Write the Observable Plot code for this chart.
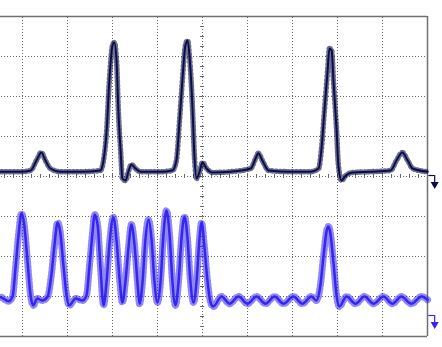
<!DOCTYPE html>
<html>
<head>
<meta charset="utf-8">
<script src="https://cdn.jsdelivr.net/npm/d3@7"></script>
<script src="https://cdn.jsdelivr.net/npm/@observablehq/plot@0.6"></script>
<style>
  html, body { margin: 0; padding: 0; background: #ffffff; }
  #chart svg { display: block; }
</style>
</head>
<body>
<div id="chart"></div>
<script>
// Oscilloscope traces, values in screen divisions (time: -5..5, volts: -4..4)
const ch1Time = [-5.00,-4.49,-4.04,-3.82,-3.69,-3.58,-3.49,-3.38,-3.16,-2.71,-2.27,-2.20,-2.13,-2.07,-2.00,-1.96,-1.91,-1.87,-1.82,-1.78,-1.71,-1.64,-1.58,-1.49,-1.38,-0.93,-0.67,-0.58,-0.51,-0.44,-0.38,-0.33,-0.29,-0.22,-0.18,-0.13,-0.07,0.00,0.09,0.22,0.62,1.07,1.18,1.24,1.33,1.47,1.96,2.40,2.58,2.64,2.71,2.78,2.82,2.87,2.91,2.98,3.02,3.09,3.18,3.33,3.73,4.18,4.31,4.44,4.56,4.67,5.00];
const ch1Volt = [0.12,0.12,0.12,0.15,0.40,0.60,0.40,0.20,0.12,0.12,0.15,0.40,1.15,2.40,3.28,3.35,2.90,1.65,0.65,-0.05,-0.10,0.15,0.30,0.20,0.12,0.12,0.15,0.40,1.40,2.52,3.28,3.40,3.02,1.65,0.52,-0.05,0.10,0.35,0.20,0.10,0.12,0.20,0.45,0.58,0.40,0.15,0.12,0.12,0.20,0.65,1.65,2.65,3.20,3.15,2.40,1.15,0.28,-0.10,0.02,0.10,0.12,0.15,0.40,0.60,0.40,0.20,0.12];

const ch2Time = [-5.00,-4.49,-4.31,-4.22,-4.16,-4.09,-4.02,-3.96,-3.89,-3.82,-3.76,-3.67,-3.56,-3.44,-3.36,-3.29,-3.22,-3.16,-3.09,-3.02,-2.96,-2.82,-2.67,-2.58,-2.51,-2.44,-2.40,-2.33,-2.27,-2.20,-2.13,-2.07,-1.98,-1.91,-1.84,-1.78,-1.71,-1.64,-1.58,-1.51,-1.44,-1.40,-1.33,-1.27,-1.20,-1.13,-1.07,-1.00,-0.93,-0.87,-0.80,-0.73,-0.67,-0.60,-0.53,-0.47,-0.40,-0.33,-0.27,-0.20,-0.13,-0.07,-0.02,0.04,0.11,0.18,0.24,0.42,0.60,0.80,1.00,1.20,1.40,1.60,1.80,2.02,2.22,2.42,2.53,2.62,2.69,2.76,2.80,2.84,2.91,2.98,3.04,3.20,3.40,3.60,3.80,4.02,4.22,4.42,4.64,4.87,5.00];
const ch2Volt = [-3.05,-3.02,-3.12,-3.00,-2.35,-1.48,-0.92,-1.22,-2.10,-2.98,-3.22,-3.05,-3.10,-3.00,-2.48,-1.72,-1.15,-1.40,-2.22,-2.98,-3.22,-3.05,-3.10,-2.98,-2.22,-1.35,-0.95,-1.22,-2.22,-3.22,-2.60,-1.72,-1.02,-1.60,-2.60,-3.15,-2.60,-1.72,-1.20,-1.72,-2.72,-3.18,-2.60,-1.60,-1.08,-1.60,-2.60,-3.15,-2.60,-1.48,-0.85,-1.48,-2.60,-3.22,-2.60,-1.60,-1.00,-1.60,-2.60,-3.15,-2.60,-1.60,-1.15,-1.72,-2.60,-3.15,-3.25,-3.00,-3.18,-3.00,-3.18,-3.00,-3.18,-3.00,-3.18,-3.00,-3.18,-3.00,-3.10,-2.72,-1.98,-1.35,-1.25,-1.40,-2.15,-2.98,-3.25,-3.00,-3.18,-3.00,-3.18,-3.00,-3.18,-3.00,-3.18,-3.00,-3.08];

const gridX = [-4,-3,-2,-1,0,1,2,3,4];
const gridY = [-3,-2,-1,0,1,2,3];
const minorX = d3.range(-25, 26).map(i => i / 5);
const minorY = d3.range(-16, 17).map(i => i / 4);
// channel reference (ground) markers at the right edge of the screen
const groundMarks = [{ch: "CH1", v: 0.025}, {ch: "CH2", v: -3.475}];

const ch1 = ch1Time.map((t, i) => ({t, v: ch1Volt[i]}));
const ch2 = ch2Time.map((t, i) => ({t, v: ch2Volt[i]}));

const C1 = "#0b0d48";
const C2 = "#3526ee";
const markColor = d => d.ch === "CH1" ? C1 : C2;

const chart = Plot.plot({
  width: 442,
  height: 347,
  margin: 0,
  style: {background: "#ffffff", overflow: "visible"},
  x: {domain: [-5, 5], range: [-23, 427], axis: null},
  y: {domain: [-4, 4], range: [336, 16], axis: null},
  marks: [
    Plot.ruleX(gridX, {x: d => d, y1: -4, y2: 4, stroke: "#6a6a6a", strokeDasharray: "1,2", strokeWidth: 1}),
    Plot.ruleY(gridY, {y: d => d, x1: -5, x2: 5, stroke: "#6a6a6a", strokeDasharray: "1,2", strokeWidth: 1}),
    Plot.ruleX(minorX, {x: d => d, y1: -0.05, y2: 0.05, stroke: "#6a6a6a", strokeWidth: 1}),
    Plot.ruleY(minorY, {y: d => d, x1: -0.045, x2: 0.045, stroke: "#6a6a6a", strokeWidth: 1}),
    Plot.ruleY([4, -4], {y: d => d, x1: -5, x2: 5, stroke: "#707070", strokeWidth: 1.5}),
    Plot.ruleX([5], {x: d => d, y1: -4, y2: 4, stroke: "#707070", strokeWidth: 1.5}),
    Plot.line(ch1, {x: "t", y: "v", curve: "monotone-x", stroke: C1, strokeWidth: 2, strokeLinejoin: "round"}),
    Plot.line(ch1, {x: "t", y: "v", curve: "monotone-x", stroke: C1, strokeWidth: 5.5, strokeDasharray: "1,3", strokeOpacity: 0.6}),
    Plot.line(ch2, {x: "t", y: "v", curve: "monotone-x", stroke: C2, strokeWidth: 2.5, strokeLinejoin: "round"}),
    Plot.line(ch2, {x: "t", y: "v", curve: "monotone-x", stroke: C2, strokeWidth: 7, strokeDasharray: "1,3", strokeOpacity: 0.55}),
    // ground markers: short horizontal, down stroke and arrowhead
    Plot.ruleY(groundMarks, {y: "v", x1: 5.03, x2: 5.16, stroke: markColor, strokeWidth: 1.2}),
    Plot.ruleX(groundMarks, {x: 5.16, y1: "v", y2: d => d.v - 0.2, stroke: markColor, strokeWidth: 1.2}),
    Plot.dot(groundMarks, {x: 5.16, y: d => d.v - 0.22, symbol: "triangle", rotate: 180, r: 3, fill: markColor, stroke: "none"})
  ]
});
document.getElementById("chart").appendChild(chart);
</script>
</body>
</html>
